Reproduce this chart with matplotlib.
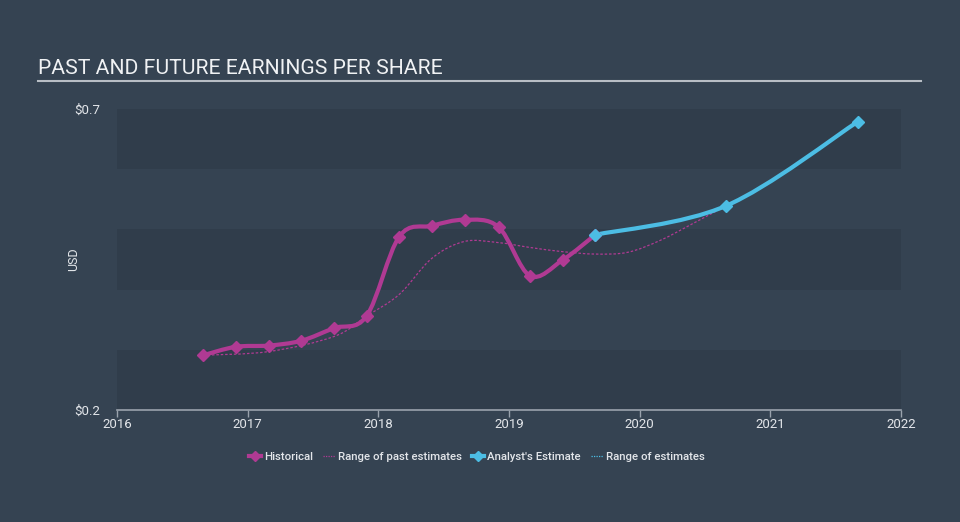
import numpy as np
import matplotlib.pyplot as plt
from matplotlib.path import Path
from matplotlib.patches import PathPatch
from matplotlib.lines import Line2D

plt.rcParams['font.family'] = ['Roboto', 'DejaVu Sans']

# historical EPS (decimal year, USD)
hist_x = [2016.66, 2016.91, 2017.16, 2017.41, 2017.66, 2017.91, 2018.16,
          2018.41, 2018.66, 2018.92, 2019.16, 2019.41, 2019.66]
hist_y = [0.291, 0.305, 0.307, 0.315, 0.336, 0.356, 0.488,
          0.506, 0.516, 0.504, 0.423, 0.449, 0.491]

# analyst estimates
est_x = [2019.66, 2020.66, 2021.67]
est_y = [0.491, 0.539, 0.679]

# range of past estimates (thin dotted line)
past_x = [2016.66, 2017.16, 2017.66, 2017.91, 2018.16, 2018.41, 2018.66,
          2018.92, 2019.16, 2019.41, 2019.66, 2019.91, 2020.16, 2020.41, 2020.66]
past_y = [0.291, 0.297, 0.322, 0.356, 0.392, 0.452, 0.480,
          0.478, 0.470, 0.463, 0.459, 0.462, 0.482, 0.510, 0.539]

year_ticks = [2016, 2017, 2018, 2019, 2020, 2021, 2022]

BG = '#354352'
BAND = '#303d4b'
PINK = '#b03a93'
BLUE = '#4cbde4'
TXT = '#e3e6ea'


def smooth_path(xs, ys, t=1/6):
    # catmull-rom style bezier through the points
    pts = np.column_stack([xs, ys])
    verts = [pts[0]]
    codes = [Path.MOVETO]
    n = len(pts)
    for i in range(n - 1):
        p0 = pts[i - 1] if i > 0 else pts[i]
        p1 = pts[i]
        p2 = pts[i + 1]
        p3 = pts[i + 2] if i + 2 < n else pts[i + 1]
        c1 = p1 + (p2 - p0) * t
        c2 = p2 - (p3 - p1) * t
        verts += [c1, c2, p2]
        codes += [Path.CURVE4] * 3
    return Path(verts, codes)


fig = plt.figure(figsize=(9.6, 5.22), dpi=100, facecolor=BG)
ax = fig.add_axes([0.1219, 0.2146, 0.8166, 0.5766])
ax.set_facecolor(BG)
ax.set_xlim(2016, 2022)
ax.set_ylim(0.2, 0.7)

for lo in [0.2, 0.4, 0.6]:
    ax.axhspan(lo, lo + 0.1, color=BAND, lw=0, zorder=0)

ax.add_patch(PathPatch(smooth_path(past_x, past_y), fill=False, ec=PINK,
                       lw=0.9, ls=(0, (2, 1.5)), zorder=2))
ax.add_patch(PathPatch(smooth_path(hist_x, hist_y), fill=False, ec=PINK,
                       lw=3, zorder=3, capstyle='round'))
ax.plot(hist_x, hist_y, ls='none', marker='D', ms=6, color=PINK, zorder=4)
ax.add_patch(PathPatch(smooth_path(est_x, est_y), fill=False, ec=BLUE,
                       lw=3, zorder=3, capstyle='round'))
ax.plot(est_x, est_y, ls='none', marker='D', ms=6, color=BLUE, zorder=5)

for s in ['top', 'right', 'left']:
    ax.spines[s].set_visible(False)
ax.spines['bottom'].set_color('#9aa3ad')
ax.spines['bottom'].set_linewidth(1.2)
ax.set_xticks(year_ticks)
ax.set_xticklabels([str(y) for y in year_ticks])
ax.tick_params(axis='x', colors='#9aa3ad', labelcolor=TXT, labelsize=9.5,
               length=5, width=1, pad=1)
ax.set_yticks([0.2, 0.7])
ax.set_yticklabels(['$0.2', '$0.7'])
ax.tick_params(axis='y', length=0, labelcolor=TXT, labelsize=9.5, pad=12)
ax.set_ylabel('USD', color=TXT, fontsize=9)
ax.yaxis.set_label_coords(-0.047, 0.5)

fig.text(0.040, 0.868, 'PAST AND FUTURE EARNINGS PER SHARE', color='#f0f2f4',
         fontsize=15.2, ha='left', va='center')
fig.add_artist(Line2D([0.040, 0.959], [0.845, 0.845], color='#b8bec5', lw=1.5))

handles = [
    Line2D([], [], color=PINK, lw=3, marker='D', ms=5),
    Line2D([], [], color=PINK, lw=0.9, ls=(0, (1, 1))),
    Line2D([], [], color=BLUE, lw=3, marker='D', ms=5),
    Line2D([], [], color=BLUE, lw=0.9, ls=(0, (1, 1))),
]
labels = ['Historical', 'Range of past estimates', "Analyst's Estimate",
          'Range of estimates']
leg = fig.legend(handles, labels, loc='center', bbox_to_anchor=(0.497, 0.125),
                 ncol=4, frameon=False, fontsize=8.2, handlelength=1.0,
                 handletextpad=0.3, columnspacing=0.9)
for t in leg.get_texts():
    t.set_color(TXT)
    t.set_fontweight('medium')

fig.savefig('out.png', dpi=100, facecolor=BG)
